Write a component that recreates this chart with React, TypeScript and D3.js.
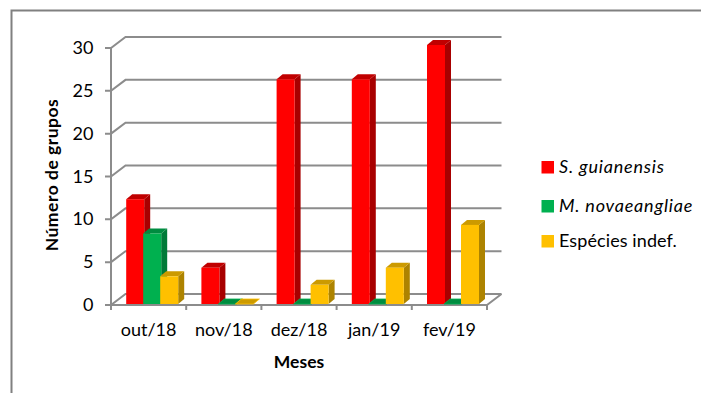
import React from "react";
import * as d3 from "d3";

const months = ["out/18", "nov/18", "dez/18", "jan/19", "fev/19"];
const sGuianensis = [12, 4, 26, 26, 30];
const mNovaeangliae = [8, 0, 0, 0, 0];
const especiesIndef = [3, 0, 2, 4, 9];
const yTicks = [0, 5, 10, 15, 20, 25, 30];
const seriesNames = ["S. guianensis", "M. novaeangliae", "Espécies indef."];
const seriesItalic = [true, true, false];
const seriesFront = ["#FF0000", "#00B050", "#FFC000"];
const seriesSide = ["#A80000", "#007A37", "#AD8300"];
const seriesTop = ["#C00000", "#008C40", "#CC9A00"];
const seriesValues = [sGuianensis, mNovaeangliae, especiesIndef];

const FONT = "Lato, Carlito, sans-serif";
const GRID = "#8C8C8C";

const x = d3.scaleBand<string>().domain(months).range([111, 487]);
const y = d3.scaleLinear().domain([0, 30]).range([305, 48]);
const wallDx = 14.5;
const wallDy = -11;
const barStep = 17;
const barW = 18;
const barPad = 15.2;
const depthX = 6;
const depthY = -5;
const floorY = 304;
const barLift = -3;

export default function App() {
  const legendY = [167, 206, 241];
  return (
    <svg width={701} height={393} style={{ position: "absolute", left: 0, top: 0, background: "#fff" }}>
      <defs>
        <filter id="soft" x="-10%" y="-10%" width="120%" height="120%">
          <feGaussianBlur stdDeviation="0.35" />
        </filter>
      </defs>
      <path d="M11.5,393 V10.5 H701" fill="none" stroke="#808080" strokeWidth={2} />

      <g stroke={GRID} strokeWidth={2} fill="none">
        {yTicks.map((t) => (
          <path
            key={t}
            d={`M105,${y(t)} H111 L${111 + wallDx},${y(t) + wallDy} H${487 + wallDx}`}
          />
        ))}
        <path d={`M111,${y(30)} V${y(0)} H487 L${487 + wallDx},${y(0) + wallDy}`} />
        {d3.range(months.length + 1).map((i) => (
          <path key={i} d={`M${111 + i * x.bandwidth()},${y(0)} V310`} />
        ))}
      </g>

      <g filter="url(#soft)">
        {months.map((m, i) =>
          seriesValues.map((vals, s) => {
            const left = (x(m) as number) + barPad + s * barStep;
            const right = left + barW;
            const v = vals[i];
            const top = v === 0 ? floorY : y(v) + barLift;
            return (
              <g key={m + s}>
                <path
                  d={`M${right},${top} l${depthX},${depthY} V${floorY + depthY} L${right},${floorY} Z`}
                  fill={seriesSide[s]}
                />
                <path
                  d={`M${left},${top} l${depthX},${depthY} H${right + depthX} L${right},${top} Z`}
                  fill={seriesTop[s]}
                  stroke={v === 0 ? seriesFront[s] : "none"}
                  strokeWidth={0.8}
                />
                {v > 0 && <rect x={left} y={top} width={barW} height={floorY - top} fill={seriesFront[s]} />}
              </g>
            );
          })
        )}
      </g>

      <g fontFamily={FONT} fontSize={18} fill="#000">
        {yTicks.map((t) => (
          <text key={t} x={93.5} y={y(t) + 1.5} textAnchor="end" dominantBaseline="middle">
            {t}
          </text>
        ))}
        {months.map((m) => (
          <text key={m} x={(x(m) as number) + x.bandwidth() / 2} y={331} textAnchor="middle" dominantBaseline="middle">
            {m}
          </text>
        ))}
        <text x={299} y={364} textAnchor="middle" dominantBaseline="middle" fontWeight={700} fontSize={17.5}>
          Meses
        </text>
        <text
          transform="translate(54,175) rotate(-90)"
          textAnchor="middle"
          dominantBaseline="middle"
          fontWeight={700}
          fontSize={17.5}
          letterSpacing={0.5}
        >
          Número de grupos
        </text>
        {seriesNames.map((n, s) => (
          <g key={n}>
            <rect x={541.5} y={legendY[s] - 6} width={12.5} height={12.5} fill={seriesFront[s]} />
            <text
              x={559}
              y={legendY[s] + 1}
              dominantBaseline="middle"
              fontStyle={seriesItalic[s] ? "italic" : "normal"}
              letterSpacing={seriesItalic[s] ? 0.8 : 0.1}
            >
              {n}
            </text>
          </g>
        ))}
      </g>
    </svg>
  );
}
